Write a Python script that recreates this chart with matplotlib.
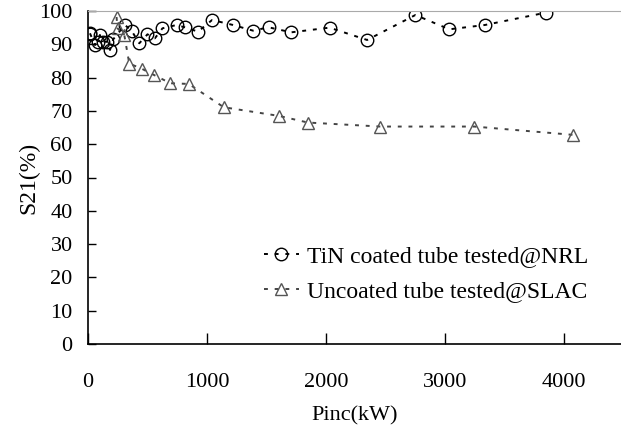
import matplotlib
matplotlib.use("Agg")
import matplotlib.pyplot as plt

# TiN coated tube tested @ NRL
nrl_p = [17, 20, 59, 87, 100, 128, 156, 185, 212, 310, 366, 431, 500, 562,
         626, 744, 814, 925, 1043, 1219, 1387, 1518, 1709, 2030, 2346, 2752,
         3037, 3336, 3848]
nrl_s21 = [93.3, 93.0, 89.8, 90.8, 92.8, 90.8, 90.8, 88.3, 91.5, 95.8, 94.1,
           90.3, 93.0, 91.8, 94.8, 95.8, 95.1, 93.8, 97.3, 95.8, 94.1, 95.1,
           93.6, 95.0, 91.3, 98.8, 94.5, 95.8, 99.5]

# Uncoated tube tested @ SLAC
slac_p = [240, 248, 305, 347, 450, 554, 693, 847, 1141, 1605, 1849, 2458,
          3247, 4080]
slac_s21 = [98.2, 94.8, 92.8, 84.2, 82.7, 80.8, 78.3, 78.1, 71.1, 68.5, 66.5,
            65.3, 65.3, 62.8]

plt.rcParams['font.family'] = ['Liberation Serif', 'DejaVu Serif']

fig = plt.figure(figsize=(6.21, 4.28), dpi=100)
ax = fig.add_axes([88 / 621, 1 - 344 / 428, 1 - 88 / 621, 333 / 428])

dash = (0, (2.0, 3.5))
ax.plot(nrl_p, nrl_s21, linestyle=dash, color='black', lw=1.4,
        marker='o', ms=9, mfc='none', mec='black', mew=1.0,
        label='TiN coated tube tested@NRL')
ax.plot(slac_p, slac_s21, linestyle=dash, color='#444444', lw=1.4,
        marker='^', ms=9, mfc='none', mec='#555555', mew=1.0,
        label='Uncoated tube tested@SLAC')

ax.set_xlim(0, 4480)
ax.set_ylim(0, 100)
ax.set_xticks([0, 1000, 2000, 3000, 4000])
ax.set_yticks(range(0, 101, 10))

ax.spines['right'].set_visible(False)
ax.spines['top'].set_color('#aaaaaa')
ax.spines['left'].set_linewidth(1.2)
ax.spines['bottom'].set_linewidth(1.2)

ax.tick_params(axis='x', direction='in', length=8, width=1, pad=21,
               labelsize=16)
ax.tick_params(axis='y', direction='in', length=6, width=1, pad=11,
               labelsize=16)

ax.set_xlabel('Pinc(kW)', fontsize=16, labelpad=10)
ax.set_ylabel('S21(%)', fontsize=17, labelpad=0)

ax.legend(loc='lower right', bbox_to_anchor=(0.97, 0.077), frameon=False,
          fontsize=17, handlelength=1.5, handletextpad=0.35,
          labelspacing=0.55, borderpad=0.2)

fig.savefig('out.png', dpi=100)
